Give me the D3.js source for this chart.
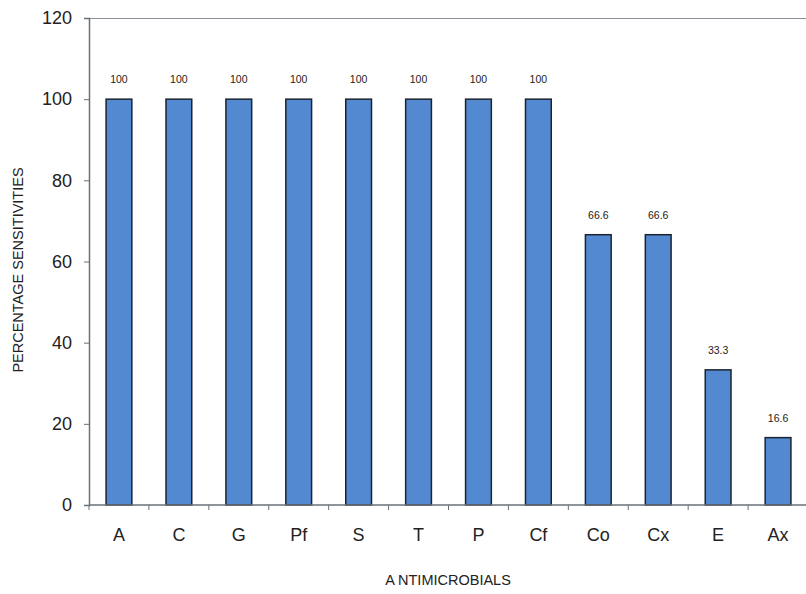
<!DOCTYPE html>
<html><head><meta charset="utf-8">
<script src="https://cdn.jsdelivr.net/npm/d3@7"></script>
<style>body{margin:0;background:#fff}svg{display:block}text{font-family:"Liberation Sans",Arial,sans-serif}</style>
</head><body><svg id="c" width="806" height="594"></svg>
<script>
const categories = ["A","C","G","Pf","S","T","P","Cf","Co","Cx","E","Ax"];
const values = [100,100,100,100,100,100,100,100,66.6,66.6,33.3,16.6];
const valueLabels = ["100","100","100","100","100","100","100","100","66.6","66.6","33.3","16.6"];
const yTicks = [0,20,40,60,80,100,120];

const svg = d3.select("#c");
const m = {l:89, t:18, r:808, b:505};
const x = d3.scaleBand().domain(categories).range([m.l, m.r]).paddingInner(0.57).paddingOuter(0.285);
const y = d3.scaleLinear().domain([0,120]).range([m.b, m.t]);
const axisCol = "#6a7078";

// frame top
svg.append("line").attr("x1", m.l).attr("x2", 806).attr("y1", m.t+0.5).attr("y2", m.t+0.5).attr("stroke", "#8a9098").attr("stroke-width", 1.2);

// bars
svg.selectAll("rect.bar").data(values).join("rect")
  .attr("x", (d,i)=>x(categories[i]))
  .attr("y", d=>y(d))
  .attr("width", x.bandwidth())
  .attr("height", d=>y(0)-y(d))
  .attr("fill", "#5289d0")
  .attr("stroke", "#1c2330").attr("stroke-width", 1.5);

// value labels
svg.selectAll("text.val").data(values).join("text")
  .attr("x", (d,i)=>x(categories[i]) + x.bandwidth()/2)
  .attr("y", d=>y(d) - 16)
  .attr("text-anchor", "middle")
  .attr("font-size", 10.5).attr("fill", "#222")
  .text((d,i)=>valueLabels[i]);

// y axis
const ya = d3.axisLeft(y).tickValues(yTicks).tickSize(5).tickPadding(12);
const gy = svg.append("g").attr("transform", `translate(${m.l},0)`).call(ya);
gy.select(".domain").attr("stroke", axisCol).attr("stroke-width", 1.5);
gy.selectAll(".tick line").attr("stroke", axisCol);
gy.selectAll(".tick text").attr("font-size", 18).attr("fill", "#222").attr("font-family", "Liberation Sans, Arial, sans-serif");

// x axis (ticks between categories)
const step = x.step();
const xb = d3.scaleLinear().domain([0, categories.length]).range([m.l, m.l + step*categories.length]);
const gx = svg.append("g").attr("transform", `translate(0,${m.b})`);
gx.append("line").attr("x1", m.l).attr("x2", 806).attr("stroke", axisCol).attr("stroke-width", 1.5);
gx.selectAll("line.t").data(d3.range(categories.length+1)).join("line")
  .attr("x1", d=>xb(d)).attr("x2", d=>xb(d)).attr("y1", 0).attr("y2", 5).attr("stroke", axisCol);
gx.selectAll("text").data(categories).join("text")
  .attr("x", d=>x(d)+x.bandwidth()/2).attr("y", 36)
  .attr("text-anchor", "middle").attr("font-size", 18).attr("fill", "#222")
  .text(d=>d);

// axis titles
svg.append("text").attr("x", 448).attr("y", 585).attr("text-anchor", "middle")
  .attr("font-size", 14.5).attr("fill", "#222").text("A NTIMICROBIALS");
svg.append("text").attr("transform", "translate(23,270) rotate(-90)").attr("text-anchor", "middle")
  .attr("font-size", 14.5).attr("fill", "#222").text("PERCENTAGE SENSITIVITIES");
</script></body></html>
